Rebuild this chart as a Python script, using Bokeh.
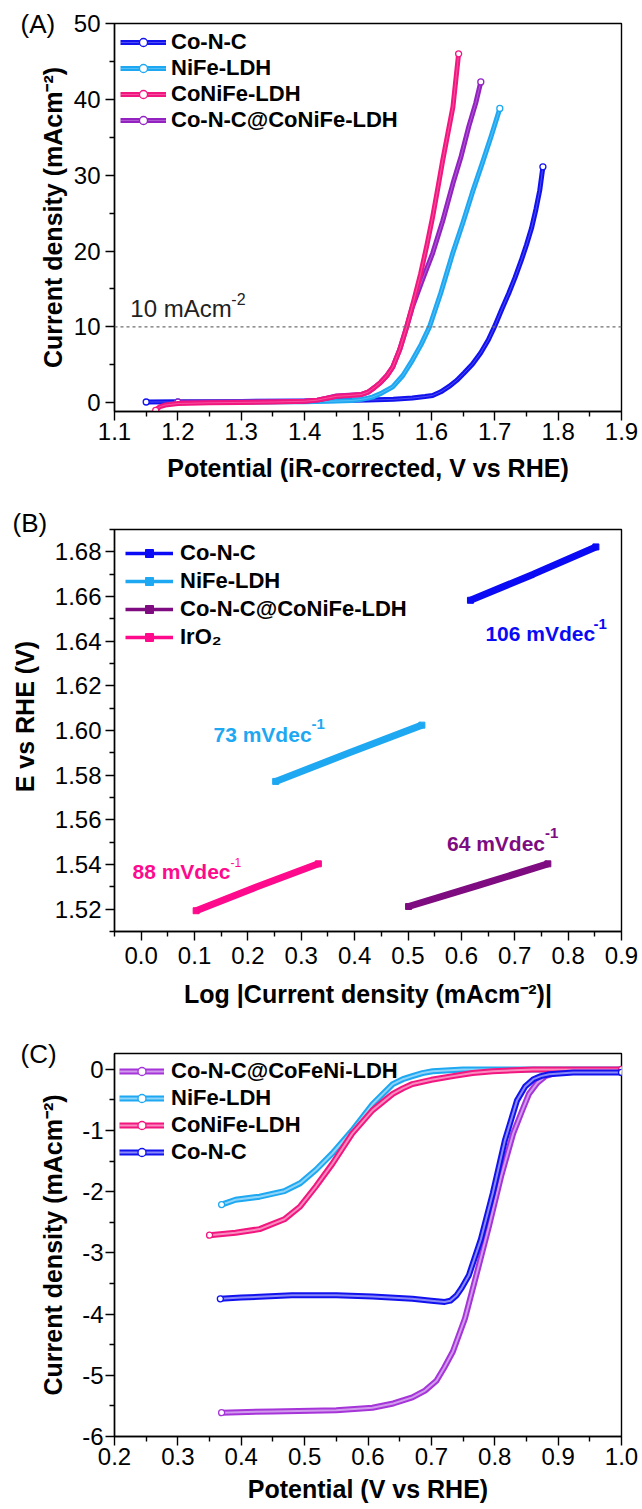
from bokeh.plotting import figure
from bokeh.layouts import column
from bokeh.models import (ColumnDataSource, Legend, LegendItem, Label, FixedTicker,
                          PrintfTickFormatter, Span, Range1d)
from bokeh.embed import file_html
from bokeh.resources import INLINE

FONT = "Liberation Sans"

# ---------------- Panel A data (OER LSV) ----------------
a_xticks = [1.1, 1.2, 1.3, 1.4, 1.5, 1.6, 1.7, 1.8, 1.9]
a_xminor = [1.15, 1.25, 1.35, 1.45, 1.55, 1.65, 1.75, 1.85]
a_yticks = [0, 10, 20, 30, 40, 50]
a_yminor = [5, 15, 25, 35, 45]
a_names = ["Co-N-C", "NiFe-LDH", "CoNiFe-LDH", "Co-N-C@CoNiFe-LDH"]

a_cnc_x = [1.150, 1.200, 1.300, 1.400, 1.450, 1.500, 1.540, 1.570, 1.590, 1.602, 1.615,
           1.628, 1.640, 1.652, 1.665, 1.678, 1.690, 1.700, 1.711, 1.722, 1.732, 1.742,
           1.750, 1.758, 1.765, 1.771, 1.776]
a_cnc_y = [0.10, 0.12, 0.18, 0.25, 0.30, 0.35, 0.45, 0.62, 0.82, 0.97, 1.45,
           2.15, 2.95, 3.95, 5.10, 6.6, 8.3, 10.1, 12.3, 14.4, 16.5, 18.8,
           20.8, 23.0, 25.5, 28.0, 31.1]

a_nife_x = [1.200, 1.300, 1.400, 1.450, 1.475, 1.490, 1.507, 1.522, 1.539, 1.555, 1.570,
            1.584, 1.597, 1.615, 1.634, 1.650, 1.665, 1.680, 1.695, 1.708]
a_nife_y = [0.10, 0.10, 0.15, 0.22, 0.30, 0.45, 0.75, 1.3, 2.1, 3.6, 5.6,
            7.7, 10.0, 14.5, 19.8, 23.8, 27.8, 31.5, 35.3, 38.8]

a_conife_x = [1.165, 1.168, 1.172, 1.180, 1.200, 1.250, 1.300, 1.350, 1.400, 1.420, 1.435,
              1.450, 1.470, 1.490, 1.500, 1.510, 1.520, 1.530, 1.539, 1.550, 1.561, 1.572,
              1.583, 1.593, 1.602, 1.610, 1.618, 1.626, 1.634, 1.643]
a_conife_y = [-1.0, -0.75, -0.5, -0.3, -0.1, 0.0, 0.05, 0.1, 0.2, 0.35, 0.6,
              0.85, 0.95, 1.1, 1.4, 2.0, 2.7, 3.6, 4.7, 7.0, 10.0, 13.4,
              17.0, 20.8, 24.5, 28.2, 32.0, 35.5, 39.0, 46.0]

a_hyb_x = [1.200, 1.300, 1.400, 1.420, 1.435, 1.450, 1.470, 1.490, 1.500, 1.510, 1.520,
           1.530, 1.539, 1.550, 1.561, 1.570, 1.585, 1.602, 1.618, 1.634, 1.647, 1.659,
           1.670, 1.678]
a_hyb_y = [0.10, 0.12, 0.20, 0.35, 0.6, 0.90, 1.00, 1.10, 1.4, 2.0, 2.7,
           3.6, 4.7, 7.0, 10.0, 12.6, 16.0, 19.7, 24.0, 28.9, 32.5, 36.4,
           39.5, 42.3]

a_ref_level = 10

# ---------------- Panel B data (Tafel) ----------------
b_xticks = [0.0, 0.1, 0.2, 0.3, 0.4, 0.5, 0.6, 0.7, 0.8, 0.9]
b_xminor = [-0.05, 0.05, 0.15, 0.25, 0.35, 0.45, 0.55, 0.65, 0.75, 0.85]
b_yticks = [1.52, 1.54, 1.56, 1.58, 1.60, 1.62, 1.64, 1.66, 1.68]
b_yminor = [1.51, 1.53, 1.55, 1.57, 1.59, 1.61, 1.63, 1.65, 1.67, 1.69]
b_names = ["Co-N-C", "NiFe-LDH", "Co-N-C@CoNiFe-LDH", "IrO\u2082"]

b_cnc_x = [0.617, 0.735, 0.852]
b_cnc_y = [1.6583, 1.6700, 1.6822]
b_nife_x = [0.252, 0.390, 0.526]
b_nife_y = [1.5772, 1.5900, 1.6024]
b_hyb_x = [0.501, 0.630, 0.762]
b_hyb_y = [1.5212, 1.5305, 1.5403]
b_iro2_x = [0.103, 0.217, 0.332]
b_iro2_y = [1.5193, 1.5300, 1.5403]
b_slopes = ["106", "73", "64", "88"]

# ---------------- Panel C data (ORR LSV) ----------------
c_xticks = [0.2, 0.3, 0.4, 0.5, 0.6, 0.7, 0.8, 0.9, 1.0]
c_xminor = [0.25, 0.35, 0.45, 0.55, 0.65, 0.75, 0.85, 0.95]
c_yticks = [-6, -5, -4, -3, -2, -1, 0]
c_yminor = [-5.5, -4.5, -3.5, -2.5, -1.5, -0.5]
c_names = ["Co-N-C@CoFeNi-LDH", "NiFe-LDH", "CoNiFe-LDH", "Co-N-C"]

c_hyb_x = [0.369, 0.450, 0.550, 0.607, 0.640, 0.670, 0.690, 0.708, 0.720, 0.734, 0.753,
           0.772, 0.791, 0.810, 0.829, 0.843, 0.854, 0.867, 0.880, 0.899, 0.950, 1.000]
c_hyb_y = [-5.61, -5.59, -5.57, -5.53, -5.46, -5.36, -5.25, -5.09, -4.88, -4.61, -4.07,
           -3.32, -2.56, -1.75, -1.05, -0.68, -0.40, -0.22, -0.11, -0.05, -0.03, -0.03]

c_nife_x = [0.369, 0.391, 0.429, 0.468, 0.493, 0.518, 0.544, 0.575, 0.607, 0.639, 0.655,
            0.670, 0.686, 0.702, 0.750, 0.850, 1.000]
c_nife_y = [-2.21, -2.13, -2.08, -1.99, -1.86, -1.64, -1.37, -1.00, -0.57, -0.24, -0.16,
            -0.11, -0.06, -0.03, 0.00, 0.00, 0.00]

c_conife_x = [0.350, 0.391, 0.429, 0.468, 0.493, 0.518, 0.544, 0.575, 0.607, 0.639, 0.655,
              0.670, 0.700, 0.734, 0.765, 0.797, 0.861, 1.000]
c_conife_y = [-2.71, -2.67, -2.61, -2.45, -2.24, -1.91, -1.54, -1.05, -0.67, -0.40, -0.31,
              -0.24, -0.17, -0.11, -0.06, -0.03, 0.00, 0.00]

c_cnc_x = [0.367, 0.400, 0.480, 0.550, 0.607, 0.670, 0.700, 0.721, 0.730, 0.740, 0.748,
           0.759, 0.778, 0.797, 0.816, 0.835, 0.848, 0.861, 0.873, 0.886, 0.924, 1.000]
c_cnc_y = [-3.75, -3.73, -3.69, -3.69, -3.71, -3.75, -3.78, -3.80, -3.78, -3.69, -3.57,
           -3.37, -2.78, -2.02, -1.16, -0.51, -0.28, -0.16, -0.11, -0.08, -0.05, -0.05]

# ---------------- colours ----------------
BLUE = "#1212EE"
CYAN = "#1EA8F2"
PINK = "#F2167F"
PURPLE_A = "#9322C0"
PURPLE_B = "#7E0C80"
PINK_B = "#FF0A8C"
BLUE_B = "#0A0AF5"
VIOLET_C = "#A535D8"


def style_fig(p, xlabel, ylabel, xt, xm, yt, ym, xfmt, yfmt, xs1, xs2, ys1, ys2):
    p.xgrid.visible = False
    p.ygrid.visible = False
    p.outline_line_color = "black"
    p.outline_line_width = 1.4
    p.outline_line_alpha = 1.0
    p.background_fill_color = "white"
    p.border_fill_color = "white"
    p.xaxis.ticker = FixedTicker(ticks=xt, minor_ticks=xm)
    p.yaxis.ticker = FixedTicker(ticks=yt, minor_ticks=ym)
    p.xaxis.formatter = PrintfTickFormatter(format=xfmt)
    p.yaxis.formatter = PrintfTickFormatter(format=yfmt)
    for ax, lab, s1, s2 in ((p.xaxis[0], xlabel, xs1, xs2), (p.yaxis[0], ylabel, ys1, ys2)):
        ax.axis_label = lab
        ax.axis_label_text_font = FONT
        ax.axis_label_text_font_style = "bold"
        ax.axis_label_text_font_size = "25px"
        ax.axis_label_text_color = "black"
        ax.axis_label_standoff = s2
        ax.major_label_standoff = s1
        ax.major_label_text_font = FONT
        ax.major_label_text_font_size = "24px"
        ax.major_label_text_color = "black"
        ax.axis_line_color = "black"
        ax.axis_line_width = 1.4
        ax.major_tick_line_color = "black"
        ax.major_tick_line_width = 1.4
        ax.minor_tick_line_color = "black"
        ax.minor_tick_line_width = 1.4
        ax.major_tick_in = 0
        ax.major_tick_out = 9
        ax.minor_tick_in = 0
        ax.minor_tick_out = 5


def panel_tag(p, s, offset, standoff):
    p.title.text = s
    p.title.align = "left"
    p.title.offset = offset
    p.title.standoff = standoff
    p.title.text_font = FONT
    p.title.text_font_size = "26px"
    p.title.text_font_style = "normal"
    p.title.text_color = "black"


def curve(p, x, y, color, width, inner_w, inner_alpha, msize):
    src = ColumnDataSource(dict(x=x, y=y))
    r1 = p.line("x", "y", source=src, line_color=color, line_width=width, line_join="round")
    r2 = p.line("x", "y", source=src, line_color="white", line_width=inner_w,
                line_alpha=inner_alpha, line_join="round")
    ends = ColumnDataSource(dict(x=[x[0], x[-1]], y=[y[0], y[-1]]))
    r3 = p.scatter("x", "y", source=ends, marker="circle", size=msize, fill_color="white",
                   line_color=color, line_width=1.3)
    return [r1, r2, r3]


def add_legend(p, items, glyph_w, standoff, spacing, padding):
    leg = Legend(items=items, location="top_left", orientation="vertical",
                 border_line_alpha=0, background_fill_alpha=0,
                 label_text_font=FONT, label_text_font_style="bold",
                 label_text_font_size="22px", label_text_color="black",
                 glyph_width=glyph_w, glyph_height=20, label_standoff=standoff,
                 spacing=spacing, padding=padding, margin=0, label_height=20)
    p.add_layout(leg)


def text(p, x, y, s, size, color, style="normal", sup=None, sup_size=None, sup_dx=0,
         sup_dy=0, sup_style=None):
    p.add_layout(Label(x=x, y=y, text=s, text_font=FONT, text_font_size=size,
                       text_font_style=style, text_color=color, text_baseline="alphabetic",
                       text_align="left"))
    if sup is not None:
        p.add_layout(Label(x=x, y=y, text=sup, text_font=FONT, text_font_size=sup_size,
                           text_font_style=sup_style or style, text_color=color,
                           text_baseline="alphabetic", text_align="left",
                           x_offset=sup_dx, y_offset=sup_dy))


# ================= Panel A =================
pA = figure(width=642, height=490, x_range=Range1d(1.1, 1.9), y_range=Range1d(-1.15, 50),
            min_border_left=106, min_border_right=19, min_border_top=23, min_border_bottom=79,
            output_backend="svg", toolbar_location=None)
style_fig(pA, "Potential (iR-corrected, V vs RHE)", "Current density (mAcm\u207b\u00b2)",
          a_xticks, a_xminor, a_yticks, a_yminor, "%.1f", "%d", 2, 11, 5, 4)
panel_tag(pA, "(A)", -94, -30)

pA.add_layout(Span(location=a_ref_level, dimension="width", line_color="#707070",
                   line_width=1.3, line_dash="3 3"))

rA_cnc = curve(pA, a_cnc_x, a_cnc_y, BLUE, 5, 1.0, 0.25, 6)
rA_nife = curve(pA, a_nife_x, a_nife_y, CYAN, 5, 1.0, 0.25, 6)
rA_hyb = curve(pA, a_hyb_x, a_hyb_y, PURPLE_A, 5, 1.0, 0.25, 6)
rA_conife = curve(pA, a_conife_x, a_conife_y, PINK, 5, 1.0, 0.25, 6)

add_legend(pA, [LegendItem(label=a_names[0], renderers=rA_cnc),
                LegendItem(label=a_names[1], renderers=rA_nife),
                LegendItem(label=a_names[2], renderers=rA_conife),
                LegendItem(label=a_names[3], renderers=rA_hyb)], 46, 5, 0, 6)

text(pA, 1.125, 12.4, "10 mAcm", "24px", "#222222", sup="-2", sup_size="16px",
     sup_dx=101, sup_dy=10)

# ================= Panel B =================
pB = figure(width=642, height=524, x_range=Range1d(-0.05, 0.9), y_range=Range1d(1.51, 1.69),
            min_border_left=114, min_border_right=21, min_border_top=39, min_border_bottom=83,
            output_backend="svg", toolbar_location=None)
style_fig(pB, "Log |Current density (mAcm\u207b\u00b2)|", "\u00a0\u00a0\u00a0\u00a0E vs RHE (V)",
          b_xticks, b_xminor, b_yticks, b_yminor, "%.1f", "%.2f", 6, 13, 4, 13)
panel_tag(pB, "(B)", -102, -16)

b_series = [(b_cnc_x, b_cnc_y, BLUE_B), (b_nife_x, b_nife_y, CYAN),
            (b_hyb_x, b_hyb_y, PURPLE_B), (b_iro2_x, b_iro2_y, PINK_B)]
b_items = []
for (bx, by, col), name in zip(b_series, b_names):
    src = ColumnDataSource(dict(x=bx, y=by))
    thin = pB.line("x", "y", source=src, line_color=col, line_width=3.5)
    pB.line("x", "y", source=src, line_color=col, line_width=7, line_cap="butt")
    ends = ColumnDataSource(dict(x=[bx[0], bx[-1]], y=[by[0], by[-1]]))
    sq = pB.scatter("x", "y", source=ends, marker="square", size=6, fill_color=col,
                    line_color=col)
    b_items.append(LegendItem(label=name, renderers=[thin, sq]))
add_legend(pB, b_items, 48, 7, 2, 11)

text(pB, 0.645, 1.6433, b_slopes[0] + " mVdec", "21px", BLUE_B, "bold", "-1", "15px", 108, 10)
text(pB, 0.1355, 1.5983, b_slopes[1] + " mVdec", "21px", CYAN, "bold", "-1", "15px", 98, 10)
text(pB, 0.573, 1.5496, b_slopes[2] + " mVdec", "21px", PURPLE_B, "bold", "-1", "15px", 98, 10)
text(pB, -0.0163, 1.5368, b_slopes[3] + " mVdec", "21px", PINK_B, "bold", "-1", "12px", 98, 9,
     sup_style="normal")

# ================= Panel C =================
pC = figure(width=642, height=495, x_range=Range1d(0.2, 1.0), y_range=Range1d(-6, 0.26),
            min_border_left=106, min_border_right=19, min_border_top=39, min_border_bottom=73,
            output_backend="svg", toolbar_location=None)
style_fig(pC, "Potential (V vs RHE)", "Current density (mAcm\u207b\u00b2)",
          c_xticks, c_xminor, c_yticks, c_yminor, "%.1f", "%d", 2, 7, 2, 12)
panel_tag(pC, "(C)", -94, -30)

rC_hyb = curve(pC, c_hyb_x, c_hyb_y, VIOLET_C, 6, 2.0, 0.5, 6)
rC_nife = curve(pC, c_nife_x, c_nife_y, CYAN, 6, 2.0, 0.5, 6)
rC_conife = curve(pC, c_conife_x, c_conife_y, PINK, 6, 2.0, 0.5, 6)
rC_cnc = curve(pC, c_cnc_x, c_cnc_y, BLUE, 6, 2.0, 0.5, 6)

add_legend(pC, [LegendItem(label=c_names[0], renderers=rC_hyb),
                LegendItem(label=c_names[1], renderers=rC_nife),
                LegendItem(label=c_names[2], renderers=rC_conife),
                LegendItem(label=c_names[3], renderers=rC_cnc)], 45, 7, 1, 5)

layout = column(pA, pB, pC, spacing=0)
open("out.html", "w").write(file_html(layout, INLINE))
